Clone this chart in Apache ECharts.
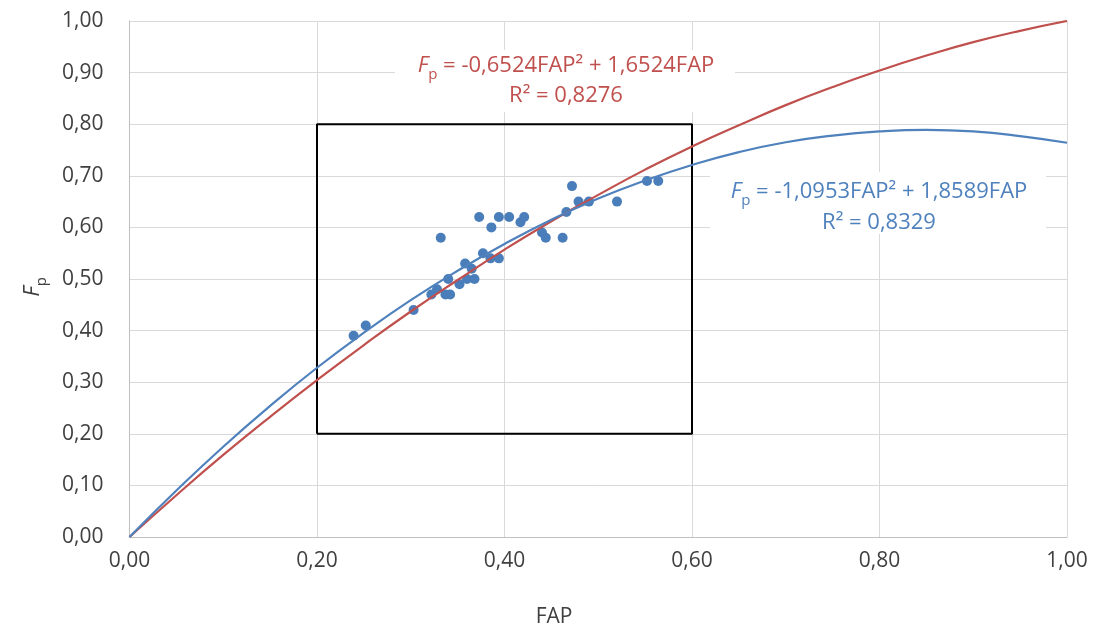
<!DOCTYPE html>
<html>
<head>
<meta charset="utf-8">
<script src="https://cdn.jsdelivr.net/npm/echarts@6/dist/echarts.min.js"></script>
<style>html,body{margin:0;padding:0;background:#fff}#c{width:1093px;height:631px}</style>
</head>
<body>
<div id="c"></div>
<script>
// Measured points (FAP, Fp)
var pointsFAP = [0.239,0.252,0.303,0.322,0.328,0.332,0.337,0.342,0.340,0.352,0.358,0.360,0.365,0.368,0.373,0.377,0.385,0.386,0.394,0.394,0.405,0.417,0.421,0.440,0.444,0.462,0.466,0.472,0.479,0.490,0.520,0.552,0.564];
var pointsFp  = [0.39,0.41,0.44,0.47,0.48,0.58,0.47,0.47,0.50,0.49,0.53,0.50,0.52,0.50,0.62,0.55,0.54,0.60,0.62,0.54,0.62,0.61,0.62,0.59,0.58,0.58,0.63,0.68,0.65,0.65,0.65,0.69,0.69];
// Trendline values
var curveX    = [0,0.05,0.10,0.15,0.20,0.25,0.30,0.35,0.40,0.45,0.50,0.55,0.60,0.65,0.70,0.75,0.80,0.85,0.90,0.95,1.00];
var redCurve  = [0,0.081,0.159,0.233,0.304,0.372,0.437,0.498,0.557,0.612,0.663,0.712,0.757,0.798,0.837,0.872,0.904,0.933,0.959,0.981,1.000];
var blueCurve = [0,0.090,0.175,0.254,0.328,0.396,0.459,0.516,0.568,0.615,0.656,0.691,0.721,0.746,0.765,0.778,0.786,0.789,0.786,0.777,0.764];
var boxX = [0.2,0.6,0.6,0.2,0.2];
var boxY = [0.2,0.2,0.8,0.8,0.2];
var tickFmt = function(v){ return v.toFixed(2).replace('.', ','); };

function zip(a,b){ return a.map(function(v,i){ return [v,b[i]]; }); }

var FONT = 'Open Sans';
var chart = echarts.init(document.getElementById('c'));
var eqRich = function(color){
  return {
    f:{fontFamily:FONT,fontSize:22,fill:color,fontStyle:'italic'},
    s:{fontFamily:FONT,fontSize:15,fill:color,verticalAlign:'bottom',padding:[0,0,-5,0]},
    t:{fontFamily:FONT,fontSize:22,fill:color}
  };
};
chart.setOption({
  animation:false,
  grid:{left:129.5,right:26,top:21,bottom:94},
  xAxis:{type:'value',min:0,max:1,interval:0.2,
    axisLine:{show:true,lineStyle:{color:'#bfbfbf',width:1}},
    axisTick:{show:false},
    axisLabel:{formatter:tickFmt,color:'#404040',fontFamily:FONT,fontSize:21,margin:14},
    splitLine:{show:true,lineStyle:{color:'#d9d9d9',width:1}}},
  yAxis:{type:'value',min:0,max:1,interval:0.1,
    axisLine:{show:true,lineStyle:{color:'#bfbfbf',width:1}},
    axisTick:{show:false},
    axisLabel:{formatter:tickFmt,color:'#404040',fontFamily:FONT,fontSize:21,margin:26},
    splitLine:{show:true,lineStyle:{color:'#d9d9d9',width:1}}},
  series:[
    {type:'scatter',data:zip(pointsFAP,pointsFp),symbolSize:10,itemStyle:{color:'#4a7ebb',opacity:1},z:2},
    {type:'line',data:zip(boxX,boxY),symbol:'none',lineStyle:{color:'#000',width:2},z:1},
    {type:'line',data:zip(curveX,redCurve),smooth:true,symbol:'none',lineStyle:{color:'#c0504d',width:2.2},z:3},
    {type:'line',data:zip(curveX,blueCurve),smooth:true,symbol:'none',lineStyle:{color:'#4f81bd',width:2.2},z:4}
  ],
  graphic:[
    {type:'rect',shape:{x:395,y:50,width:340,height:62},style:{fill:'#fff'},z:50},
    {type:'text',z:51,position:[566,66],style:{text:'{f|F}{s|p}{t| = -0,6524FAP² + 1,6524FAP}',rich:eqRich('#c0504d'),textAlign:'center',textVerticalAlign:'middle'}},
    {type:'text',z:51,position:[566,96],style:{text:'R² = 0,8276',fill:'#c0504d',fontFamily:FONT,fontSize:22,textAlign:'center',textVerticalAlign:'middle'}},
    {type:'rect',shape:{x:710,y:172,width:336,height:62},style:{fill:'#fff'},z:50},
    {type:'text',z:51,position:[879,192],style:{text:'{f|F}{s|p}{t| = -1,0953FAP² + 1,8589FAP}',rich:eqRich('#4f81bd'),textAlign:'center',textVerticalAlign:'middle'}},
    {type:'text',z:51,position:[879,223],style:{text:'R² = 0,8329',fill:'#4f81bd',fontFamily:FONT,fontSize:22,textAlign:'center',textVerticalAlign:'middle'}},
    {type:'text',z:51,position:[554,617],style:{text:'FAP',fill:'#404040',fontFamily:FONT,fontSize:21,textAlign:'center',textVerticalAlign:'middle'}},
    {type:'text',z:51,position:[33,287],rotation:Math.PI/2,style:{text:'{f|F}{s|p}',rich:{f:{fontFamily:FONT,fontSize:22,fill:'#404040',fontStyle:'italic'},s:{fontFamily:FONT,fontSize:15,fill:'#404040',verticalAlign:'bottom',padding:[0,0,-5,0]}},textAlign:'center',textVerticalAlign:'middle'}}
  ]
});
</script>
</body>
</html>
